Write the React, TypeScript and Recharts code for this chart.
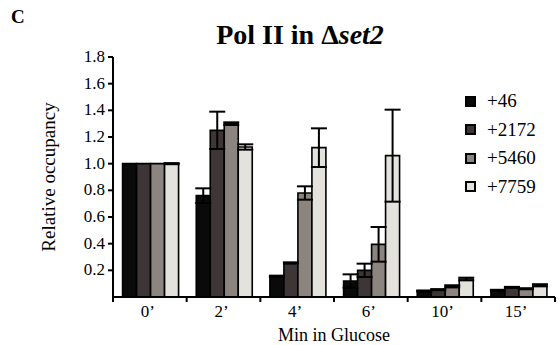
import { BarChart, Bar, XAxis, YAxis, ErrorBar } from 'recharts';

const categories = ['0’', '2’', '4’', '6’', '10’', '15’'];
const seriesNames = ['+46', '+2172', '+5460', '+7759'];
const seriesColors = ['#0a0a0a', '#3e3636', '#8c847e', '#e4e2dc'];

const pos46 = [1.0, 0.76, 0.155, 0.12, 0.045, 0.05];
const err46 = [0.0, 0.055, 0.005, 0.05, 0.004, 0.004];
const pos2172 = [1.0, 1.25, 0.255, 0.2, 0.055, 0.072];
const err2172 = [0.0, 0.14, 0.005, 0.05, 0.004, 0.004];
const pos5460 = [1.0, 1.3, 0.78, 0.395, 0.08, 0.062];
const err5460 = [0.0, 0.01, 0.05, 0.13, 0.008, 0.004];
const pos7759 = [1.0, 1.125, 1.12, 1.06, 0.135, 0.088];
const err7759 = [0.004, 0.02, 0.145, 0.345, 0.01, 0.008];

const yTicks = [0.2, 0.4, 0.6, 0.8, 1.0, 1.2, 1.4, 1.6, 1.8];

const data = categories.map((c, i) => ({
  cat: c,
  s0: pos46[i],
  e0: err46[i],
  s1: pos2172[i],
  e1: err2172[i],
  s2: pos5460[i],
  e2: err5460[i],
  s3: pos7759[i],
  e3: err7759[i],
}));

const FONT = "'Liberation Serif', 'Times New Roman', serif";
const W = 560;
const H = 345;
const PLOT_LEFT = 113;
const PLOT_RIGHT = 555;
const BAND = (PLOT_RIGHT - PLOT_LEFT) / categories.length;

function XTick(props: any) {
  const { x, y, payload, index } = props;
  const left = x - BAND / 2;
  return (
    <g>
      <line x1={left} y1={y} x2={left} y2={y + 5} stroke="#000" strokeWidth={2} />
      {index === categories.length - 1 && (
        <line x1={x + BAND / 2} y1={y} x2={x + BAND / 2} y2={y + 5} stroke="#000" strokeWidth={2} />
      )}
      <text x={x - 2} y={y + 20} textAnchor="middle" style={{ fontFamily: FONT }} fontSize={17} fill="#000">
        {payload.value}
      </text>
    </g>
  );
}

function YTick(props: any) {
  const { x, y, payload } = props;
  return (
    <text x={x} y={y + 5} textAnchor="end" style={{ fontFamily: FONT }} fontSize={17} fill="#000">
      {Number(payload.value).toFixed(1)}
    </text>
  );
}

function LegendBox() {
  return (
    <div
      style={{
        position: 'absolute',
        left: 465,
        top: 87,
        fontFamily: FONT,
        fontSize: 19,
        color: '#000',
      }}
    >
      {seriesNames.map((n, i) => (
        <div key={n} style={{ display: 'flex', alignItems: 'center', height: 28.5 }}>
          <span
            style={{
              width: 7,
              height: 7,
              background: seriesColors[i],
              border: '2px solid #000',
              marginRight: 11,
              display: 'inline-block',
            }}
          />
          <span>{n}</span>
        </div>
      ))}
    </div>
  );
}

export default function App() {
  return (
    <div
      style={{
        position: 'absolute',
        left: 0,
        top: 0,
        width: W,
        height: H,
        background: '#fff',
        fontFamily: FONT,
      }}
    >
      <div style={{ position: 'absolute', left: 11, top: 6, fontWeight: 'bold', fontSize: 19 }}>C</div>
      <div
        style={{
          position: 'absolute',
          left: 0,
          width: 600,
          top: 20,
          textAlign: 'center',
          fontWeight: 'bold',
          fontSize: 28,
          lineHeight: '30px',
        }}
      >
        Pol II in Δ<i>set2</i>
      </div>
      <BarChart
        width={W}
        height={H}
        data={data}
        margin={{ top: 57, right: W - PLOT_RIGHT, bottom: 0, left: 0 }}
        barCategoryGap="13%"
        barGap={0}
        style={{ fontFamily: FONT }}
      >
        <XAxis
          dataKey="cat"
          height={48}
          tickLine={false}
          tickSize={0}
          tickMargin={0}
          axisLine={{ stroke: '#000', strokeWidth: 2 }}
          tick={<XTick />}
          interval={0}
          label={{
            value: 'Min in Glucose',
            position: 'insideBottom',
            offset: 4,
            style: { fontFamily: FONT },
            fontSize: 18,
            fill: '#000',
          }}
        />
        <YAxis
          width={PLOT_LEFT}
          domain={[0, 1.8]}
          ticks={yTicks}
          interval={0}
          tickSize={5}
          tickMargin={3}
          tick={<YTick />}
          tickLine={{ stroke: '#000', strokeWidth: 2 }}
          axisLine={{ stroke: '#000', strokeWidth: 2 }}
          label={{
            value: 'Relative occupancy',
            angle: -90,
            position: 'center',
            dx: -8,
            style: { fontFamily: FONT },
            fontSize: 19,
            fill: '#000',
          }}
        />
        {seriesNames.map((n, i) => (
          <Bar
            key={n}
            dataKey={`s${i}`}
            name={n}
            fill={seriesColors[i]}
            stroke="#000"
            strokeWidth={1.6}
            isAnimationActive={false}
          >
            <ErrorBar dataKey={`e${i}`} width={8} stroke="#000" strokeWidth={2} />
          </Bar>
        ))}
      </BarChart>
      <LegendBox />
    </div>
  );
}
